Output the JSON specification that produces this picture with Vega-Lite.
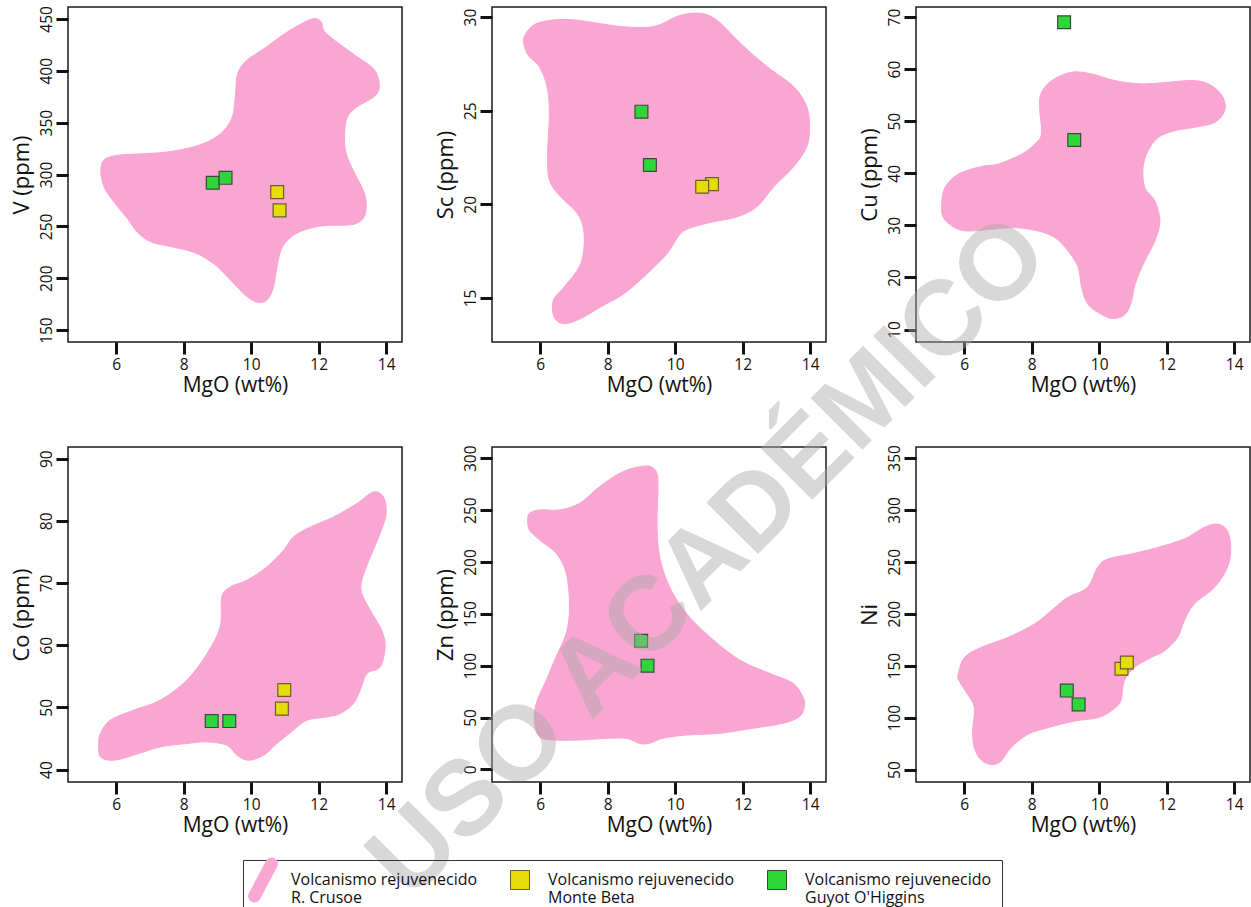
{
"$schema": "https://vega.github.io/schema/vega-lite/v6.json",
"background": "white",
"padding": {"left": 9, "top": 4, "right": 0, "bottom": 0},
"columns": 3,
"bounds": "flush",
"spacing": {"row": 105, "column": 90},
"resolve": {"scale": {"x": "independent", "y": "independent", "fill": "shared", "shape": "shared", "stroke": "shared"}},
"datasets": {
"blobs": [
{"p":"V","i":0,"x":11.78,"y":449.7},{"p":"V","i":1,"x":12.07,"y":447.4},{"p":"V","i":2,"x":12.22,"y":436.2},{"p":"V","i":3,"x":13.06,"y":415.4},{"p":"V","i":4,"x":13.65,"y":401},{"p":"V","i":5,"x":13.8,"y":384.9},{"p":"V","i":6,"x":13.65,"y":375.3},{"p":"V","i":7,"x":13.16,"y":365.7},{"p":"V","i":8,"x":12.86,"y":356.1},{"p":"V","i":9,"x":12.77,"y":340.1},{"p":"V","i":10,"x":12.81,"y":320.8},{"p":"V","i":11,"x":13.06,"y":301.6},{"p":"V","i":12,"x":13.31,"y":285.6},{"p":"V","i":13,"x":13.41,"y":272.8},{"p":"V","i":14,"x":13.36,"y":260},{"p":"V","i":15,"x":13.16,"y":253.5},{"p":"V","i":16,"x":12.86,"y":251.3},{"p":"V","i":17,"x":12.07,"y":250.3},{"p":"V","i":18,"x":11.38,"y":243.9},{"p":"V","i":19,"x":10.94,"y":231.1},{"p":"V","i":20,"x":10.77,"y":211.9},{"p":"V","i":21,"x":10.67,"y":192.6},{"p":"V","i":22,"x":10.49,"y":179.8},{"p":"V","i":23,"x":10.2,"y":176.6},{"p":"V","i":24,"x":9.85,"y":183},{"p":"V","i":25,"x":9.41,"y":197.4},{"p":"V","i":26,"x":8.91,"y":213.5},{"p":"V","i":27,"x":8.32,"y":224.7},{"p":"V","i":28,"x":7.63,"y":230.4},{"p":"V","i":29,"x":7.04,"y":234.9},{"p":"V","i":30,"x":6.64,"y":243.9},{"p":"V","i":31,"x":6.35,"y":256.7},{"p":"V","i":32,"x":5.95,"y":272.8},{"p":"V","i":33,"x":5.65,"y":287.2},{"p":"V","i":34,"x":5.54,"y":303.2},{"p":"V","i":35,"x":5.65,"y":314.4},{"p":"V","i":36,"x":6.05,"y":318.6},{"p":"V","i":37,"x":6.74,"y":319.9},{"p":"V","i":38,"x":7.53,"y":321.8},{"p":"V","i":39,"x":8.42,"y":327.9},{"p":"V","i":40,"x":9.06,"y":338.5},{"p":"V","i":41,"x":9.43,"y":354.5},{"p":"V","i":42,"x":9.53,"y":375.3},{"p":"V","i":43,"x":9.59,"y":396.2},{"p":"V","i":44,"x":9.85,"y":409.6},{"p":"V","i":45,"x":10.4,"y":421.8},{"p":"V","i":46,"x":11.09,"y":437.8},
{"p":"Sc","i":0,"x":5.53,"y":28.97},{"p":"Sc","i":1,"x":5.92,"y":29.68},{"p":"Sc","i":2,"x":6.91,"y":29.86},{"p":"Sc","i":3,"x":8.38,"y":29.5},{"p":"Sc","i":4,"x":9.37,"y":29.5},{"p":"Sc","i":5,"x":10.06,"y":30.04},{"p":"Sc","i":6,"x":10.55,"y":30.21},{"p":"Sc","i":7,"x":10.95,"y":30.12},{"p":"Sc","i":8,"x":11.34,"y":29.68},{"p":"Sc","i":9,"x":11.93,"y":28.61},{"p":"Sc","i":10,"x":12.72,"y":27.36},{"p":"Sc","i":11,"x":13.51,"y":26.29},{"p":"Sc","i":12,"x":13.9,"y":25.22},{"p":"Sc","i":13,"x":13.98,"y":24.15},{"p":"Sc","i":14,"x":13.9,"y":23.08},{"p":"Sc","i":15,"x":13.51,"y":22.01},{"p":"Sc","i":16,"x":12.92,"y":20.94},{"p":"Sc","i":17,"x":12.42,"y":19.87},{"p":"Sc","i":18,"x":11.83,"y":19.33},{"p":"Sc","i":19,"x":11.14,"y":19.07},{"p":"Sc","i":20,"x":10.55,"y":18.8},{"p":"Sc","i":21,"x":10.16,"y":18.44},{"p":"Sc","i":22,"x":9.76,"y":17.37},{"p":"Sc","i":23,"x":9.17,"y":16.3},{"p":"Sc","i":24,"x":8.48,"y":15.23},{"p":"Sc","i":25,"x":7.79,"y":14.52},{"p":"Sc","i":26,"x":7.2,"y":13.9},{"p":"Sc","i":27,"x":6.71,"y":13.63},{"p":"Sc","i":28,"x":6.41,"y":13.98},{"p":"Sc","i":29,"x":6.39,"y":14.88},{"p":"Sc","i":30,"x":6.71,"y":15.59},{"p":"Sc","i":31,"x":7.2,"y":16.84},{"p":"Sc","i":32,"x":7.3,"y":18.44},{"p":"Sc","i":33,"x":7.1,"y":19.51},{"p":"Sc","i":34,"x":6.61,"y":20.4},{"p":"Sc","i":35,"x":6.27,"y":21.3},{"p":"Sc","i":36,"x":6.22,"y":22.72},{"p":"Sc","i":37,"x":6.27,"y":24.86},{"p":"Sc","i":38,"x":6.2,"y":26.29},{"p":"Sc","i":39,"x":5.97,"y":27.36},{"p":"Sc","i":40,"x":5.67,"y":27.9},{"p":"Sc","i":41,"x":5.53,"y":28.43},
{"p":"Cu","i":0,"x":5.33,"y":34.06},{"p":"Cu","i":1,"x":5.43,"y":37.27},{"p":"Cu","i":2,"x":5.82,"y":39.83},{"p":"Cu","i":3,"x":6.51,"y":41.31},{"p":"Cu","i":4,"x":7.01,"y":41.76},{"p":"Cu","i":5,"x":7.7,"y":43.68},{"p":"Cu","i":6,"x":8.09,"y":45.61},{"p":"Cu","i":7,"x":8.29,"y":47.54},{"p":"Cu","i":8,"x":8.24,"y":52.03},{"p":"Cu","i":9,"x":8.27,"y":55.24},{"p":"Cu","i":10,"x":8.59,"y":57.8},{"p":"Cu","i":11,"x":9.18,"y":59.41},{"p":"Cu","i":12,"x":9.77,"y":59.09},{"p":"Cu","i":13,"x":10.46,"y":57.8},{"p":"Cu","i":14,"x":11.25,"y":57.16},{"p":"Cu","i":15,"x":12.04,"y":57.48},{"p":"Cu","i":16,"x":12.83,"y":57.8},{"p":"Cu","i":17,"x":13.33,"y":56.84},{"p":"Cu","i":18,"x":13.67,"y":54.6},{"p":"Cu","i":19,"x":13.72,"y":52.03},{"p":"Cu","i":20,"x":13.43,"y":49.78},{"p":"Cu","i":21,"x":12.83,"y":48.82},{"p":"Cu","i":22,"x":12.24,"y":48.18},{"p":"Cu","i":23,"x":11.75,"y":46.89},{"p":"Cu","i":24,"x":11.45,"y":44.33},{"p":"Cu","i":25,"x":11.3,"y":41.12},{"p":"Cu","i":26,"x":11.35,"y":37.27},{"p":"Cu","i":27,"x":11.65,"y":34.7},{"p":"Cu","i":28,"x":11.8,"y":30.85},{"p":"Cu","i":29,"x":11.65,"y":27},{"p":"Cu","i":30,"x":11.35,"y":23.15},{"p":"Cu","i":31,"x":11.06,"y":18.65},{"p":"Cu","i":32,"x":10.96,"y":15.44},{"p":"Cu","i":33,"x":10.76,"y":12.88},{"p":"Cu","i":34,"x":10.41,"y":12.11},{"p":"Cu","i":35,"x":10.07,"y":12.88},{"p":"Cu","i":36,"x":9.67,"y":14.8},{"p":"Cu","i":37,"x":9.48,"y":18.01},{"p":"Cu","i":38,"x":9.38,"y":21.86},{"p":"Cu","i":39,"x":9.08,"y":25.07},{"p":"Cu","i":40,"x":8.69,"y":27.64},{"p":"Cu","i":41,"x":8.19,"y":28.92},{"p":"Cu","i":42,"x":7.5,"y":29.56},{"p":"Cu","i":43,"x":6.81,"y":29.24},{"p":"Cu","i":44,"x":6.12,"y":28.92},{"p":"Cu","i":45,"x":5.72,"y":29.56},{"p":"Cu","i":46,"x":5.38,"y":31.49},
{"p":"Co","i":0,"x":5.48,"y":44.18},{"p":"Co","i":1,"x":5.53,"y":45.79},{"p":"Co","i":2,"x":5.82,"y":47.93},{"p":"Co","i":3,"x":6.51,"y":49.54},{"p":"Co","i":4,"x":7.3,"y":51.15},{"p":"Co","i":5,"x":8.09,"y":54.36},{"p":"Co","i":6,"x":8.69,"y":58.65},{"p":"Co","i":7,"x":9.08,"y":62.94},{"p":"Co","i":8,"x":9.13,"y":67.76},{"p":"Co","i":9,"x":9.38,"y":69.37},{"p":"Co","i":10,"x":9.87,"y":70.44},{"p":"Co","i":11,"x":10.46,"y":72.58},{"p":"Co","i":12,"x":10.96,"y":75.26},{"p":"Co","i":13,"x":11.25,"y":77.41},{"p":"Co","i":14,"x":11.75,"y":79.01},{"p":"Co","i":15,"x":12.44,"y":80.62},{"p":"Co","i":16,"x":13.13,"y":82.77},{"p":"Co","i":17,"x":13.62,"y":84.64},{"p":"Co","i":18,"x":13.92,"y":83.84},{"p":"Co","i":19,"x":14.0,"y":81.16},{"p":"Co","i":20,"x":13.82,"y":77.94},{"p":"Co","i":21,"x":13.53,"y":74.19},{"p":"Co","i":22,"x":13.28,"y":70.44},{"p":"Co","i":23,"x":13.28,"y":68.3},{"p":"Co","i":24,"x":13.53,"y":65.62},{"p":"Co","i":25,"x":13.87,"y":62.4},{"p":"Co","i":26,"x":13.97,"y":59.72},{"p":"Co","i":27,"x":13.82,"y":56.51},{"p":"Co","i":28,"x":13.43,"y":55.43},{"p":"Co","i":29,"x":13.23,"y":52.75},{"p":"Co","i":30,"x":13.03,"y":50.61},{"p":"Co","i":31,"x":12.64,"y":49.0},{"p":"Co","i":32,"x":12.24,"y":48.47},{"p":"Co","i":33,"x":11.65,"y":47.93},{"p":"Co","i":34,"x":11.25,"y":46.32},{"p":"Co","i":35,"x":10.76,"y":44.18},{"p":"Co","i":36,"x":10.37,"y":42.3},{"p":"Co","i":37,"x":9.92,"y":41.5},{"p":"Co","i":38,"x":9.58,"y":42.3},{"p":"Co","i":39,"x":9.28,"y":43.91},{"p":"Co","i":40,"x":8.69,"y":44.45},{"p":"Co","i":41,"x":8.09,"y":44.18},{"p":"Co","i":42,"x":7.3,"y":43.64},{"p":"Co","i":43,"x":6.51,"y":42.3},{"p":"Co","i":44,"x":5.92,"y":41.5},{"p":"Co","i":45,"x":5.53,"y":42.04},
{"p":"Zn","i":0,"x":5.68,"y":246.9},{"p":"Zn","i":1,"x":5.98,"y":250.2},{"p":"Zn","i":2,"x":6.57,"y":250.2},{"p":"Zn","i":3,"x":7.17,"y":256.6},{"p":"Zn","i":4,"x":7.76,"y":272.7},{"p":"Zn","i":5,"x":8.45,"y":287.1},{"p":"Zn","i":6,"x":9.14,"y":292.6},{"p":"Zn","i":7,"x":9.44,"y":287.1},{"p":"Zn","i":8,"x":9.49,"y":269.5},{"p":"Zn","i":9,"x":9.46,"y":237.3},{"p":"Zn","i":10,"x":9.54,"y":205.1},{"p":"Zn","i":11,"x":9.83,"y":176.2},{"p":"Zn","i":12,"x":10.33,"y":150.5},{"p":"Zn","i":13,"x":11.02,"y":128.0},{"p":"Zn","i":14,"x":11.91,"y":105.5},{"p":"Zn","i":15,"x":12.8,"y":92.6},{"p":"Zn","i":16,"x":13.49,"y":83.0},{"p":"Zn","i":17,"x":13.78,"y":70.1},{"p":"Zn","i":18,"x":13.83,"y":60.5},{"p":"Zn","i":19,"x":13.68,"y":50.8},{"p":"Zn","i":20,"x":13.19,"y":44.4},{"p":"Zn","i":21,"x":12.3,"y":39.6},{"p":"Zn","i":22,"x":11.31,"y":34.7},{"p":"Zn","i":23,"x":10.33,"y":33.1},{"p":"Zn","i":24,"x":9.63,"y":29.9},{"p":"Zn","i":25,"x":9.24,"y":25.1},{"p":"Zn","i":26,"x":8.94,"y":25.1},{"p":"Zn","i":27,"x":8.55,"y":29.9},{"p":"Zn","i":28,"x":7.96,"y":29.9},{"p":"Zn","i":29,"x":7.17,"y":28.3},{"p":"Zn","i":30,"x":6.38,"y":28.3},{"p":"Zn","i":31,"x":5.98,"y":31.5},{"p":"Zn","i":32,"x":5.83,"y":44.4},{"p":"Zn","i":33,"x":5.88,"y":63.7},{"p":"Zn","i":34,"x":6.18,"y":86.2},{"p":"Zn","i":35,"x":6.47,"y":108.7},{"p":"Zn","i":36,"x":6.77,"y":131.2},{"p":"Zn","i":37,"x":6.87,"y":156.9},{"p":"Zn","i":38,"x":6.77,"y":189.1},{"p":"Zn","i":39,"x":6.47,"y":208.4},{"p":"Zn","i":40,"x":5.98,"y":221.2},{"p":"Zn","i":41,"x":5.68,"y":230.9},{"p":"Zn","i":42,"x":5.63,"y":240.5},
{"p":"Ni","i":0,"x":5.82,"y":141.6},{"p":"Ni","i":1,"x":6.0,"y":157.7},{"p":"Ni","i":2,"x":6.49,"y":167.4},{"p":"Ni","i":3,"x":7.28,"y":177.0},{"p":"Ni","i":4,"x":8.07,"y":189.9},{"p":"Ni","i":5,"x":8.57,"y":202.7},{"p":"Ni","i":6,"x":9.06,"y":215.6},{"p":"Ni","i":7,"x":9.65,"y":225.2},{"p":"Ni","i":8,"x":9.95,"y":244.5},{"p":"Ni","i":9,"x":10.25,"y":252.6},{"p":"Ni","i":10,"x":10.94,"y":257.4},{"p":"Ni","i":11,"x":11.73,"y":263.8},{"p":"Ni","i":12,"x":12.52,"y":271.9},{"p":"Ni","i":13,"x":13.11,"y":283.1},{"p":"Ni","i":14,"x":13.51,"y":286.3},{"p":"Ni","i":15,"x":13.8,"y":279.9},{"p":"Ni","i":16,"x":13.9,"y":263.8},{"p":"Ni","i":17,"x":13.8,"y":244.5},{"p":"Ni","i":18,"x":13.41,"y":225.2},{"p":"Ni","i":19,"x":12.81,"y":209.2},{"p":"Ni","i":20,"x":12.52,"y":193.1},{"p":"Ni","i":21,"x":12.32,"y":177.0},{"p":"Ni","i":22,"x":11.93,"y":164.1},{"p":"Ni","i":23,"x":11.53,"y":157.7},{"p":"Ni","i":24,"x":11.04,"y":148.1},{"p":"Ni","i":25,"x":10.74,"y":135.2},{"p":"Ni","i":26,"x":10.64,"y":115.9},{"p":"Ni","i":27,"x":10.35,"y":106.3},{"p":"Ni","i":28,"x":9.95,"y":99.8},{"p":"Ni","i":29,"x":9.26,"y":96.6},{"p":"Ni","i":30,"x":8.47,"y":90.2},{"p":"Ni","i":31,"x":7.88,"y":83.8},{"p":"Ni","i":32,"x":7.38,"y":70.9},{"p":"Ni","i":33,"x":7.09,"y":58.0},{"p":"Ni","i":34,"x":6.79,"y":54.8},{"p":"Ni","i":35,"x":6.49,"y":59.6},{"p":"Ni","i":36,"x":6.3,"y":70.9},{"p":"Ni","i":37,"x":6.25,"y":87.0},{"p":"Ni","i":38,"x":6.3,"y":109.5},{"p":"Ni","i":39,"x":6.1,"y":122.3},{"p":"Ni","i":40,"x":5.85,"y":135.2}
],
"pts": [
{"p":"V","g":"Guyot O'Higgins","x":8.86,"y":292},{"p":"V","g":"Guyot O'Higgins","x":9.24,"y":296.8},{"p":"V","g":"Monte Beta","x":10.77,"y":283},{"p":"V","g":"Monte Beta","x":10.84,"y":265.4},
{"p":"Sc","g":"Guyot O'Higgins","x":9.0,"y":24.95},{"p":"Sc","g":"Guyot O'Higgins","x":9.25,"y":22.1},{"p":"Sc","g":"Monte Beta","x":11.09,"y":21.08},{"p":"Sc","g":"Monte Beta","x":10.8,"y":20.94},
{"p":"Cu","g":"Guyot O'Higgins","x":8.96,"y":69.0},{"p":"Cu","g":"Guyot O'Higgins","x":9.26,"y":46.4},
{"p":"Co","g":"Guyot O'Higgins","x":8.83,"y":47.8},{"p":"Co","g":"Guyot O'Higgins","x":9.35,"y":47.8},{"p":"Co","g":"Monte Beta","x":10.98,"y":52.8},{"p":"Co","g":"Monte Beta","x":10.91,"y":49.8},
{"p":"Zn","g":"Guyot O'Higgins","x":8.99,"y":124},{"p":"Zn","g":"Guyot O'Higgins","x":9.18,"y":100},
{"p":"Ni","g":"Guyot O'Higgins","x":9.04,"y":126},{"p":"Ni","g":"Guyot O'Higgins","x":9.39,"y":112.7},{"p":"Ni","g":"Monte Beta","x":10.66,"y":147},{"p":"Ni","g":"Monte Beta","x":10.82,"y":153}
]
},
"concat": [
{"width":334,"height":335,"layer":[
 {"data":{"name":"blobs"},"transform":[{"filter":"datum.p == 'V'"}],"mark":{"type":"line","interpolate":"cardinal-closed","fill":"#f9a6d2","stroke":"#f9a6d2","strokeWidth":1},
  "encoding":{"x":{"field":"x","type":"quantitative","scale":{"domain":[4.57,14.47],"nice":false,"zero":false},"axis":{"values":[6,8,10,12,14],"title":"MgO (wt%)"}},
   "y":{"field":"y","type":"quantitative","scale":{"domain":[138.5,461.5],"nice":false,"zero":false},"axis":{"values":[150,200,250,300,350,400,450],"title":"V (ppm)"}},
   "order":{"field":"i","type":"quantitative"}}},
 {"data":{"name":"pts"},"transform":[{"filter":"datum.p == 'V'"}],"mark":{"type":"point","filled":true,"size":165,"opacity":1,"strokeWidth":1.2},
  "encoding":{"x":{"field":"x","type":"quantitative"},"y":{"field":"y","type":"quantitative"},
   "fill":{"field":"g","type":"nominal","scale":{"domain":["R. Crusoe","Monte Beta","Guyot O'Higgins"],"range":["#f9a6d2","#e6dc0a","#2fd639"]},"legend":{"title":null,"orient":"none","legendX":175,"legendY":853,"direction":"horizontal","columns":3,"symbolSize":361,"labelExpr":"['Volcanismo rejuvenecido', datum.label]","labelFontSize":16,"labelFont":"Open Sans","labelColor":"#111","labelLimit":400,"labelOffset":18,"columnPadding":30,"padding":10,"strokeColor":"#333","symbolStrokeWidth":1,"encode":{"labels":{"update":{"lineHeight":{"value":19}}}}}},
   "shape":{"field":"g","type":"nominal","scale":{"domain":["R. Crusoe","Monte Beta","Guyot O'Higgins"],"range":["M1.447,-1.41L1.517,-1.642L1.492,-1.882L1.377,-2.095L1.19,-2.247L0.958,-2.317L0.718,-2.292L0.505,-2.177L0.353,-1.99L-1.447,1.41L-1.517,1.642L-1.492,1.882L-1.377,2.095L-1.19,2.247L-0.958,2.317L-0.718,2.292L-0.505,2.177L-0.353,1.99Z","square","square"]}},
   "stroke":{"field":"g","type":"nominal","scale":{"domain":["R. Crusoe","Monte Beta","Guyot O'Higgins"],"range":["#f9a6d2","#6b5e2a","#3a4a3a"]}}}}
]},
{"width":334,"height":335,"layer":[
 {"data":{"name":"blobs"},"transform":[{"filter":"datum.p == 'Sc'"}],"mark":{"type":"line","interpolate":"cardinal-closed","fill":"#f9a6d2","stroke":"#f9a6d2","strokeWidth":1},
  "encoding":{"x":{"field":"x","type":"quantitative","scale":{"domain":[4.57,14.47],"nice":false,"zero":false},"axis":{"values":[6,8,10,12,14],"title":"MgO (wt%)"}},
   "y":{"field":"y","type":"quantitative","scale":{"domain":[12.65,30.54],"nice":false,"zero":false},"axis":{"values":[15,20,25,30],"title":"Sc (ppm)"}},
   "order":{"field":"i","type":"quantitative"}}},
 {"data":{"name":"pts"},"transform":[{"filter":"datum.p == 'Sc'"}],"mark":{"type":"point","filled":true,"size":165,"opacity":1,"strokeWidth":1.2},
  "encoding":{"x":{"field":"x","type":"quantitative"},"y":{"field":"y","type":"quantitative"},
   "fill":{"field":"g","type":"nominal","scale":{"domain":["R. Crusoe","Monte Beta","Guyot O'Higgins"],"range":["#f9a6d2","#e6dc0a","#2fd639"]},"legend":{"title":null,"orient":"none","legendX":175,"legendY":853,"direction":"horizontal","columns":3,"symbolSize":361,"labelExpr":"['Volcanismo rejuvenecido', datum.label]","labelFontSize":16,"labelFont":"Open Sans","labelColor":"#111","labelLimit":400,"labelOffset":18,"columnPadding":30,"padding":10,"strokeColor":"#333","symbolStrokeWidth":1,"encode":{"labels":{"update":{"lineHeight":{"value":19}}}}}},
   "shape":{"field":"g","type":"nominal","scale":{"domain":["R. Crusoe","Monte Beta","Guyot O'Higgins"],"range":["M1.447,-1.41L1.517,-1.642L1.492,-1.882L1.377,-2.095L1.19,-2.247L0.958,-2.317L0.718,-2.292L0.505,-2.177L0.353,-1.99L-1.447,1.41L-1.517,1.642L-1.492,1.882L-1.377,2.095L-1.19,2.247L-0.958,2.317L-0.718,2.292L-0.505,2.177L-0.353,1.99Z","square","square"]}},
   "stroke":{"field":"g","type":"nominal","scale":{"domain":["R. Crusoe","Monte Beta","Guyot O'Higgins"],"range":["#f9a6d2","#6b5e2a","#3a4a3a"]}}}}
]},
{"width":334,"height":335,"layer":[
 {"data":{"name":"blobs"},"transform":[{"filter":"datum.p == 'Cu'"}],"mark":{"type":"line","interpolate":"cardinal-closed","fill":"#f9a6d2","stroke":"#f9a6d2","strokeWidth":1},
  "encoding":{"x":{"field":"x","type":"quantitative","scale":{"domain":[4.57,14.47],"nice":false,"zero":false},"axis":{"values":[6,8,10,12,14],"title":"MgO (wt%)"}},
   "y":{"field":"y","type":"quantitative","scale":{"domain":[7.6,71.93],"nice":false,"zero":false},"axis":{"values":[10,20,30,40,50,60,70],"title":"Cu (ppm)"}},
   "order":{"field":"i","type":"quantitative"}}},
 {"data":{"name":"pts"},"transform":[{"filter":"datum.p == 'Cu'"}],"mark":{"type":"point","filled":true,"size":165,"opacity":1,"strokeWidth":1.2},
  "encoding":{"x":{"field":"x","type":"quantitative"},"y":{"field":"y","type":"quantitative"},
   "fill":{"field":"g","type":"nominal","scale":{"domain":["R. Crusoe","Monte Beta","Guyot O'Higgins"],"range":["#f9a6d2","#e6dc0a","#2fd639"]},"legend":{"title":null,"orient":"none","legendX":175,"legendY":853,"direction":"horizontal","columns":3,"symbolSize":361,"labelExpr":"['Volcanismo rejuvenecido', datum.label]","labelFontSize":16,"labelFont":"Open Sans","labelColor":"#111","labelLimit":400,"labelOffset":18,"columnPadding":30,"padding":10,"strokeColor":"#333","symbolStrokeWidth":1,"encode":{"labels":{"update":{"lineHeight":{"value":19}}}}}},
   "shape":{"field":"g","type":"nominal","scale":{"domain":["R. Crusoe","Monte Beta","Guyot O'Higgins"],"range":["M1.447,-1.41L1.517,-1.642L1.492,-1.882L1.377,-2.095L1.19,-2.247L0.958,-2.317L0.718,-2.292L0.505,-2.177L0.353,-1.99L-1.447,1.41L-1.517,1.642L-1.492,1.882L-1.377,2.095L-1.19,2.247L-0.958,2.317L-0.718,2.292L-0.505,2.177L-0.353,1.99Z","square","square"]}},
   "stroke":{"field":"g","type":"nominal","scale":{"domain":["R. Crusoe","Monte Beta","Guyot O'Higgins"],"range":["#f9a6d2","#6b5e2a","#3a4a3a"]}}}}
]},
{"width":334,"height":335,"layer":[
 {"data":{"name":"blobs"},"transform":[{"filter":"datum.p == 'Co'"}],"mark":{"type":"line","interpolate":"cardinal-closed","fill":"#f9a6d2","stroke":"#f9a6d2","strokeWidth":1},
  "encoding":{"x":{"field":"x","type":"quantitative","scale":{"domain":[4.57,14.47],"nice":false,"zero":false},"axis":{"values":[6,8,10,12,14],"title":"MgO (wt%)"}},
   "y":{"field":"y","type":"quantitative","scale":{"domain":[38.0,91.87],"nice":false,"zero":false},"axis":{"values":[40,50,60,70,80,90],"title":"Co (ppm)"}},
   "order":{"field":"i","type":"quantitative"}}},
 {"data":{"name":"pts"},"transform":[{"filter":"datum.p == 'Co'"}],"mark":{"type":"point","filled":true,"size":165,"opacity":1,"strokeWidth":1.2},
  "encoding":{"x":{"field":"x","type":"quantitative"},"y":{"field":"y","type":"quantitative"},
   "fill":{"field":"g","type":"nominal","scale":{"domain":["R. Crusoe","Monte Beta","Guyot O'Higgins"],"range":["#f9a6d2","#e6dc0a","#2fd639"]},"legend":{"title":null,"orient":"none","legendX":175,"legendY":853,"direction":"horizontal","columns":3,"symbolSize":361,"labelExpr":"['Volcanismo rejuvenecido', datum.label]","labelFontSize":16,"labelFont":"Open Sans","labelColor":"#111","labelLimit":400,"labelOffset":18,"columnPadding":30,"padding":10,"strokeColor":"#333","symbolStrokeWidth":1,"encode":{"labels":{"update":{"lineHeight":{"value":19}}}}}},
   "shape":{"field":"g","type":"nominal","scale":{"domain":["R. Crusoe","Monte Beta","Guyot O'Higgins"],"range":["M1.447,-1.41L1.517,-1.642L1.492,-1.882L1.377,-2.095L1.19,-2.247L0.958,-2.317L0.718,-2.292L0.505,-2.177L0.353,-1.99L-1.447,1.41L-1.517,1.642L-1.492,1.882L-1.377,2.095L-1.19,2.247L-0.958,2.317L-0.718,2.292L-0.505,2.177L-0.353,1.99Z","square","square"]}},
   "stroke":{"field":"g","type":"nominal","scale":{"domain":["R. Crusoe","Monte Beta","Guyot O'Higgins"],"range":["#f9a6d2","#6b5e2a","#3a4a3a"]}}}}
]},
{"width":334,"height":335,"layer":[
 {"data":{"name":"blobs"},"transform":[{"filter":"datum.p == 'Zn'"}],"mark":{"type":"line","interpolate":"cardinal-closed","fill":"#f9a6d2","stroke":"#f9a6d2","strokeWidth":1},
  "encoding":{"x":{"field":"x","type":"quantitative","scale":{"domain":[4.57,14.47],"nice":false,"zero":false},"axis":{"values":[6,8,10,12,14],"title":"MgO (wt%)"}},
   "y":{"field":"y","type":"quantitative","scale":{"domain":[-12.2,310.9],"nice":false,"zero":false},"axis":{"values":[0,50,100,150,200,250,300],"title":"Zn (ppm)"}},
   "order":{"field":"i","type":"quantitative"}}},
 {"data":{"name":"pts"},"transform":[{"filter":"datum.p == 'Zn'"}],"mark":{"type":"point","filled":true,"size":165,"opacity":1,"strokeWidth":1.2},
  "encoding":{"x":{"field":"x","type":"quantitative"},"y":{"field":"y","type":"quantitative"},
   "fill":{"field":"g","type":"nominal","scale":{"domain":["R. Crusoe","Monte Beta","Guyot O'Higgins"],"range":["#f9a6d2","#e6dc0a","#2fd639"]},"legend":{"title":null,"orient":"none","legendX":175,"legendY":853,"direction":"horizontal","columns":3,"symbolSize":361,"labelExpr":"['Volcanismo rejuvenecido', datum.label]","labelFontSize":16,"labelFont":"Open Sans","labelColor":"#111","labelLimit":400,"labelOffset":18,"columnPadding":30,"padding":10,"strokeColor":"#333","symbolStrokeWidth":1,"encode":{"labels":{"update":{"lineHeight":{"value":19}}}}}},
   "shape":{"field":"g","type":"nominal","scale":{"domain":["R. Crusoe","Monte Beta","Guyot O'Higgins"],"range":["M1.447,-1.41L1.517,-1.642L1.492,-1.882L1.377,-2.095L1.19,-2.247L0.958,-2.317L0.718,-2.292L0.505,-2.177L0.353,-1.99L-1.447,1.41L-1.517,1.642L-1.492,1.882L-1.377,2.095L-1.19,2.247L-0.958,2.317L-0.718,2.292L-0.505,2.177L-0.353,1.99Z","square","square"]}},
   "stroke":{"field":"g","type":"nominal","scale":{"domain":["R. Crusoe","Monte Beta","Guyot O'Higgins"],"range":["#f9a6d2","#6b5e2a","#3a4a3a"]}}}},
 {"data":{"values":[{"x":11.0,"y":204,"t":"USO ACADÉMICO"}]},"mark":{"type":"text","font":"Liberation Sans","fontWeight":"bold","fontSize":106,"angle":-45,"align":"center","baseline":"middle","fill":"#a9a9a9","opacity":0.45},
  "encoding":{"x":{"field":"x","type":"quantitative"},"y":{"field":"y","type":"quantitative"},"text":{"field":"t"}}}
]},
{"width":334,"height":335,"layer":[
 {"data":{"name":"blobs"},"transform":[{"filter":"datum.p == 'Ni'"}],"mark":{"type":"line","interpolate":"cardinal-closed","fill":"#f9a6d2","stroke":"#f9a6d2","strokeWidth":1},
  "encoding":{"x":{"field":"x","type":"quantitative","scale":{"domain":[4.57,14.47],"nice":false,"zero":false},"axis":{"values":[6,8,10,12,14],"title":"MgO (wt%)"}},
   "y":{"field":"y","type":"quantitative","scale":{"domain":[38.0,360.5],"nice":false,"zero":false},"axis":{"values":[50,100,150,200,250,300,350],"title":"Ni"}},
   "order":{"field":"i","type":"quantitative"}}},
 {"data":{"name":"pts"},"transform":[{"filter":"datum.p == 'Ni'"}],"mark":{"type":"point","filled":true,"size":165,"opacity":1,"strokeWidth":1.2},
  "encoding":{"x":{"field":"x","type":"quantitative"},"y":{"field":"y","type":"quantitative"},
   "fill":{"field":"g","type":"nominal","scale":{"domain":["R. Crusoe","Monte Beta","Guyot O'Higgins"],"range":["#f9a6d2","#e6dc0a","#2fd639"]},"legend":{"title":null,"orient":"none","legendX":175,"legendY":853,"direction":"horizontal","columns":3,"symbolSize":361,"labelExpr":"['Volcanismo rejuvenecido', datum.label]","labelFontSize":16,"labelFont":"Open Sans","labelColor":"#111","labelLimit":400,"labelOffset":18,"columnPadding":30,"padding":10,"strokeColor":"#333","symbolStrokeWidth":1,"encode":{"labels":{"update":{"lineHeight":{"value":19}}}}}},
   "shape":{"field":"g","type":"nominal","scale":{"domain":["R. Crusoe","Monte Beta","Guyot O'Higgins"],"range":["M1.447,-1.41L1.517,-1.642L1.492,-1.882L1.377,-2.095L1.19,-2.247L0.958,-2.317L0.718,-2.292L0.505,-2.177L0.353,-1.99L-1.447,1.41L-1.517,1.642L-1.492,1.882L-1.377,2.095L-1.19,2.247L-0.958,2.317L-0.718,2.292L-0.505,2.177L-0.353,1.99Z","square","square"]}},
   "stroke":{"field":"g","type":"nominal","scale":{"domain":["R. Crusoe","Monte Beta","Guyot O'Higgins"],"range":["#f9a6d2","#6b5e2a","#3a4a3a"]}}}}
]}
],
"config": {
 "font": "Open Sans",
 "view": {"stroke": "#1a1a1a", "strokeWidth": 1.5},
 "axis": {"domain": false, "grid": false, "ticks": true, "tickSize": 12, "tickWidth": 3, "tickColor": "#111", "labelFont": "Open Sans", "labelFontSize": 15.5, "labelColor": "#111", "titleFont": "Open Sans", "titleFontWeight": "normal", "titleColor": "#111"},
 "axisX": {"labelPadding": 3, "titleFontSize": 21, "titlePadding": 2, "labelFlush": false},
 "axisY": {"labelAngle": -90, "labelAlign": "center", "labelBaseline": "bottom", "labelPadding": 2, "titleFontSize": 22, "titlePadding": 6}
}
}
